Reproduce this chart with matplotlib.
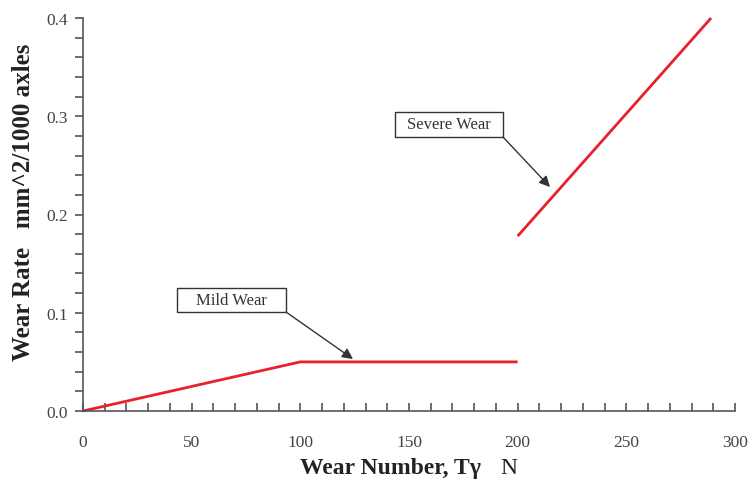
import matplotlib
matplotlib.use("Agg")
import matplotlib.pyplot as plt
from matplotlib.ticker import MultipleLocator
from matplotlib.patches import Rectangle, FancyArrowPatch

mild_x = [0, 100, 200]
mild_y = [0.0, 0.05, 0.05]
severe_x = [200, 289]
severe_y = [0.178, 0.4]

x_ticks = [0, 50, 100, 150, 200, 250, 300]
y_ticks = [0.0, 0.1, 0.2, 0.3, 0.4]

plt.rcParams['font.family'] = ['Liberation Serif', 'DejaVu Serif']

W, H = 749, 481
fig = plt.figure(figsize=(W/100, H/100), dpi=100)
ax = fig.add_axes([83/W, 1-412/H, (735-83)/W, (412-19)/H])

ax.plot(mild_x, mild_y, color='#e8202a', lw=2, solid_capstyle='butt', clip_on=False)
ax.plot(severe_x, severe_y, color='#e8202a', lw=2, solid_capstyle='butt', clip_on=False)

ax.set_xlim(0, 300)
ax.set_ylim(0, 0.4)
ax.set_xticks(x_ticks)
ax.set_yticks(y_ticks)
ax.set_yticklabels([f"{v:.1f}" for v in y_ticks])
ax.xaxis.set_minor_locator(MultipleLocator(10))
ax.yaxis.set_minor_locator(MultipleLocator(0.02))

for s in ['top', 'right']:
    ax.spines[s].set_visible(False)
for s in ['left', 'bottom']:
    ax.spines[s].set_color('#555555')
    ax.spines[s].set_linewidth(1.2)

ax.tick_params(axis='x', which='both', direction='in', length=6, color='#555555', width=1.2,
               labelsize=12.5, labelcolor='#444444', pad=16.5)
ax.tick_params(axis='y', which='both', direction='out', length=6, color='#555555', width=1.2,
               labelsize=12.5, labelcolor='#444444', pad=5)


def px(x, y):
    return (x/W, 1-y/H)


fig.text(*px(24, 202), "Wear Rate   mm^2/1000 axles", rotation=90, ha='center', va='center',
         fontsize=18, fontweight='bold', color='#222222')
fig.text(*px(300, 469), "Wear Number, Tγ", ha='left', va='center',
         fontsize=17, fontweight='bold', color='#222222')
fig.text(*px(517, 469), "N", ha='right', va='center', fontsize=17, color='#222222')

# annotation boxes
for (x0, y0, x1, y1, label) in [(395, 113, 503, 138, "Severe Wear"),
                                 (177, 289, 286, 313, "Mild Wear")]:
    fig.add_artist(Rectangle(px(x0, y1), (x1-x0)/W, (y1-y0)/H, transform=fig.transFigure,
                             fc='white', ec='#333333', lw=1))
    fig.text(*px((x0+x1)/2, (y0+y1)/2), label, ha='center', va='center',
             fontsize=12, color='#333333')

arrowprops = dict(arrowstyle='-|>', color='#333333', lw=1, mutation_scale=16, shrinkA=0, shrinkB=0)
fig.add_artist(FancyArrowPatch(px(503, 138), px(550, 188), transform=fig.transFigure, **arrowprops))
fig.add_artist(FancyArrowPatch(px(286, 313), px(353, 360), transform=fig.transFigure, **arrowprops))

fig.savefig("out.png", dpi=100)
